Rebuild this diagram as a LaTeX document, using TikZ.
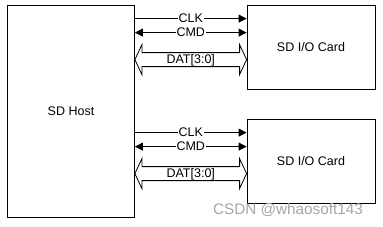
\documentclass[tikz,border=0pt]{standalone}
\usepackage{fontspec}
\setmainfont{Liberation Sans}
\usetikzlibrary{calc,arrows.meta}
\begin{document}
\begin{tikzpicture}[x=1pt,y=-1pt,
  >={Triangle[length=8pt,width=8pt]},
  box/.style={draw=black,line width=0.8pt,fill=white,inner sep=0pt,font=\fontsize{12.5}{14}\selectfont},
  sig/.style={draw=black,line width=0.8pt},
  lbl/.style={fill=white,inner sep=0.6pt,font=\fontsize{12.5}{14}\selectfont},
  wm/.style={text=black!35,font=\fontsize{15.3}{17}\selectfont,inner sep=0pt}]
\useasboundingbox (0,0) rectangle (383,226);
\node[box,minimum width=127pt,minimum height=212pt] (host) at (71,111) {SD Host};
\node[box,minimum width=128pt,minimum height=84pt] (card1) at (311,47) {SD I/O Card};
\node[box,minimum width=128pt,minimum height=84pt] (card2) at (311,161) {SD I/O Card};
\foreach \c in {card1,card2}{
  \coordinate (clk\c) at ($(\c.north west)+(0,14)$);
  \coordinate (cmd\c) at ($(\c.north west)+(0,28)$);
  \coordinate (dat\c) at ($(\c.north west)+(0,55)$);
  \draw[sig,->] (host.east |- clk\c) -- (clk\c) node[midway,lbl] {CLK};
  \draw[sig,<->] (host.east |- cmd\c) -- (cmd\c) node[midway,lbl] {CMD};
  \coordinate (hd\c) at (host.east |- dat\c);
  \draw[sig,line join=miter,fill=white]
    (hd\c) -- ($(hd\c)+(7,-15)$) -- ($(hd\c)+(7,-7)$) -- ($(dat\c)+(-7,-7)$)
    -- ($(dat\c)+(-7,-15)$) -- (dat\c) -- ($(dat\c)+(-7,15)$) -- ($(dat\c)+(-7,7)$)
    -- ($(hd\c)+(7,7)$) -- ($(hd\c)+(7,15)$) -- cycle;
  \node[lbl,fill=none] at ($($(hd\c)!0.5!(dat\c)$)+(0,1)$) {DAT[3:0]};
}
\node[wm] (wm) at (288,210) {CSDN @whaosoft143};
\end{tikzpicture}
\end{document}
